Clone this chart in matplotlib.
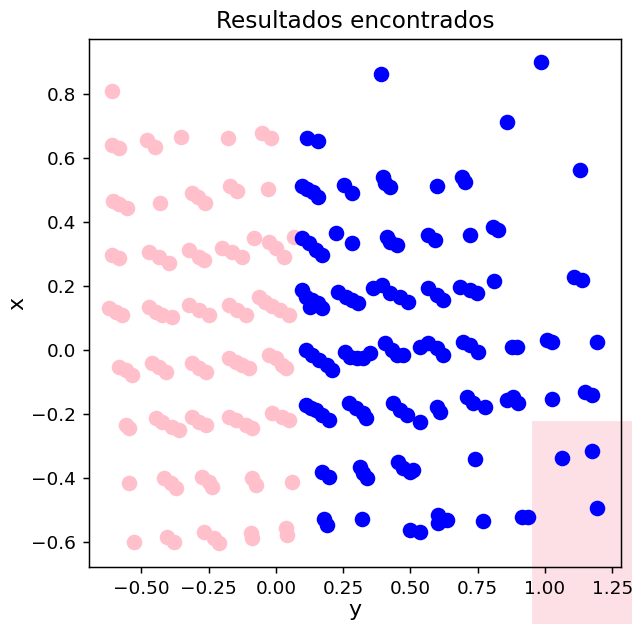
import numpy as np
import matplotlib
matplotlib.use('agg')
import matplotlib.pyplot as plt
from matplotlib.patches import Rectangle

# grupo 0 (rosa): eje horizontal "y", eje vertical "x"
rosa_y = [-0.61, -0.61, -0.584, -0.48, -0.45, -0.353, -0.178, -0.052, -0.019,
          -0.606, -0.584, -0.554, -0.431, -0.312, -0.29, -0.264, -0.171, -0.145, -0.03,
          -0.61, -0.584, -0.472, -0.435, -0.398, -0.323, -0.286, -0.268, -0.20, -0.164,
          -0.126, -0.082, -0.026, 0.0, 0.03, 0.067,
          -0.62, -0.595, -0.572, -0.472, -0.446, -0.424, -0.387, -0.323, -0.286, -0.249,
          -0.175, -0.145, -0.112, -0.063, -0.041, -0.015, 0.015, 0.048,
          -0.584, -0.558, -0.535, -0.461, -0.435, -0.409, -0.312, -0.286, -0.26, -0.175,
          -0.149, -0.126, -0.10, -0.026, 0.0, 0.022, 0.037,
          -0.558, -0.546, -0.446, -0.424, -0.387, -0.36, -0.312, -0.286, -0.26, -0.175,
          -0.149, -0.112, -0.089, -0.015, 0.022, 0.048,
          -0.546, -0.416, -0.39, -0.372, -0.275, -0.249, -0.238, -0.089, -0.074, 0.06,
          -0.528, -0.405, -0.38, -0.268, -0.23, -0.212, -0.093, -0.089, 0.037, 0.041]
rosa_x = [0.81, 0.64, 0.631, 0.656, 0.634, 0.666, 0.6625, 0.678, 0.6625,
          0.466, 0.456, 0.444, 0.459, 0.49, 0.478, 0.459, 0.5125, 0.497, 0.503,
          0.297, 0.288, 0.306, 0.29, 0.272, 0.3125, 0.29, 0.281, 0.319, 0.306,
          0.29, 0.35, 0.338, 0.319, 0.29, 0.353,
          0.131, 0.119, 0.109, 0.134, 0.119, 0.109, 0.103, 0.14, 0.125, 0.109,
          0.14, 0.125, 0.109, 0.166, 0.15, 0.1375, 0.125, 0.109,
          -0.053, -0.0625, -0.078, -0.041, -0.053, -0.069, -0.041, -0.056, -0.069, -0.025,
          -0.0375, -0.047, -0.056, -0.016, -0.025, -0.047, -0.056,
          -0.234, -0.244, -0.2125, -0.225, -0.24, -0.25, -0.209, -0.225, -0.234, -0.209,
          -0.219, -0.234, -0.244, -0.197, -0.209, -0.219,
          -0.416, -0.40, -0.416, -0.431, -0.397, -0.4125, -0.428, -0.40, -0.422, -0.4125,
          -0.60, -0.584, -0.60, -0.569, -0.5875, -0.603, -0.572, -0.5875, -0.556, -0.578]

# grupo 1 (azul)
azul_y = [0.39, 0.985, 0.859, 1.13, 0.115, 0.156,
          0.097, 0.115, 0.138, 0.156, 0.253, 0.283, 0.398, 0.405, 0.424, 0.598, 0.69, 0.703,
          0.097, 0.123, 0.149, 0.171, 0.223, 0.283, 0.413, 0.424, 0.45, 0.565, 0.59, 0.72,
          0.807, 0.825,
          0.097, 0.112, 0.134, 0.156, 0.126, 0.171, 0.23, 0.26, 0.283, 0.305, 0.36, 0.394,
          0.424, 0.461, 0.49, 0.565, 0.598, 0.62, 0.684, 0.72, 0.747, 0.81, 1.11, 1.138,
          0.112, 0.134, 0.16, 0.19, 0.208, 0.257, 0.275, 0.30, 0.323, 0.35, 0.405, 0.431,
          0.45, 0.472, 0.535, 0.565, 0.598, 0.62, 0.695, 0.72, 0.75, 0.877, 0.896, 1.007,
          1.026, 1.193,
          0.112, 0.13, 0.149, 0.171, 0.197, 0.271, 0.297, 0.323, 0.335, 0.435, 0.461, 0.487,
          0.535, 0.598, 0.61, 0.71, 0.732, 0.777, 0.859, 0.881, 0.90, 1.026, 1.149, 1.175,
          0.171, 0.197, 0.312, 0.323, 0.338, 0.454, 0.472, 0.498, 0.509, 0.74, 1.063, 1.175,
          0.178, 0.19, 0.32, 0.498, 0.535, 0.602, 0.602, 0.636, 0.77, 0.915, 0.937, 1.193]
azul_x = [0.8625, 0.90, 0.7125, 0.5625, 0.6625, 0.653,
          0.5125, 0.503, 0.494, 0.478, 0.516, 0.49, 0.54, 0.522, 0.509, 0.5125, 0.54, 0.525,
          0.35, 0.334, 0.3125, 0.297, 0.366, 0.334, 0.353, 0.338, 0.328, 0.36, 0.344, 0.36,
          0.384, 0.375,
          0.1875, 0.166, 0.156, 0.147, 0.134, 0.131, 0.181, 0.166, 0.156, 0.147, 0.194, 0.203,
          0.178, 0.166, 0.15, 0.194, 0.172, 0.156, 0.197, 0.1875, 0.178, 0.216, 0.228, 0.219,
          0.0, -0.016, -0.031, -0.047, -0.0625, -0.006, -0.022, -0.025, -0.025, -0.009, 0.022, 0.0,
          -0.016, -0.016, 0.009, 0.022, 0.006, -0.016, 0.025, 0.016, -0.006, 0.009, 0.009, 0.031,
          0.025, 0.025,
          -0.172, -0.181, -0.1875, -0.203, -0.219, -0.166, -0.181, -0.197, -0.2125, -0.166, -0.1875, -0.203,
          -0.225, -0.178, -0.194, -0.147, -0.166, -0.178, -0.156, -0.147, -0.166, -0.153, -0.131, -0.141,
          -0.381, -0.397, -0.366, -0.384, -0.40, -0.35, -0.369, -0.381, -0.375, -0.34, -0.3375, -0.316,
          -0.528, -0.547, -0.528, -0.5625, -0.569, -0.516, -0.54, -0.531, -0.534, -0.522, -0.522, -0.494]

fig = plt.figure(figsize=(632 / 133, 624 / 133), dpi=133)
ax = fig.add_axes([0.1408, 0.0913, 0.8418, 0.8462])
ax.patch.set_alpha(0)
ax.scatter(rosa_y, rosa_x, color='pink', s=55)
ax.scatter(azul_y, azul_x, color='blue', s=55)
ax.set_xlim(-0.695, 1.283)
ax.set_ylim(-0.678, 0.972)
ax.set_xticks([-0.5, -0.25, 0.0, 0.25, 0.5, 0.75, 1.0, 1.25])
ax.set_title('Resultados encontrados', fontsize=12.5)
ax.set_xlabel('y', fontsize=12, labelpad=1)
ax.set_ylabel('x', fontsize=12, labelpad=2)

# recuadro rosa de fondo en la esquina inferior derecha
fig.patches.append(Rectangle((533 / 632, 0), 99 / 632, 202 / 624, transform=fig.transFigure,
                             color='#fde0e6', zorder=-1))

fig.savefig('out.png', dpi=133)
